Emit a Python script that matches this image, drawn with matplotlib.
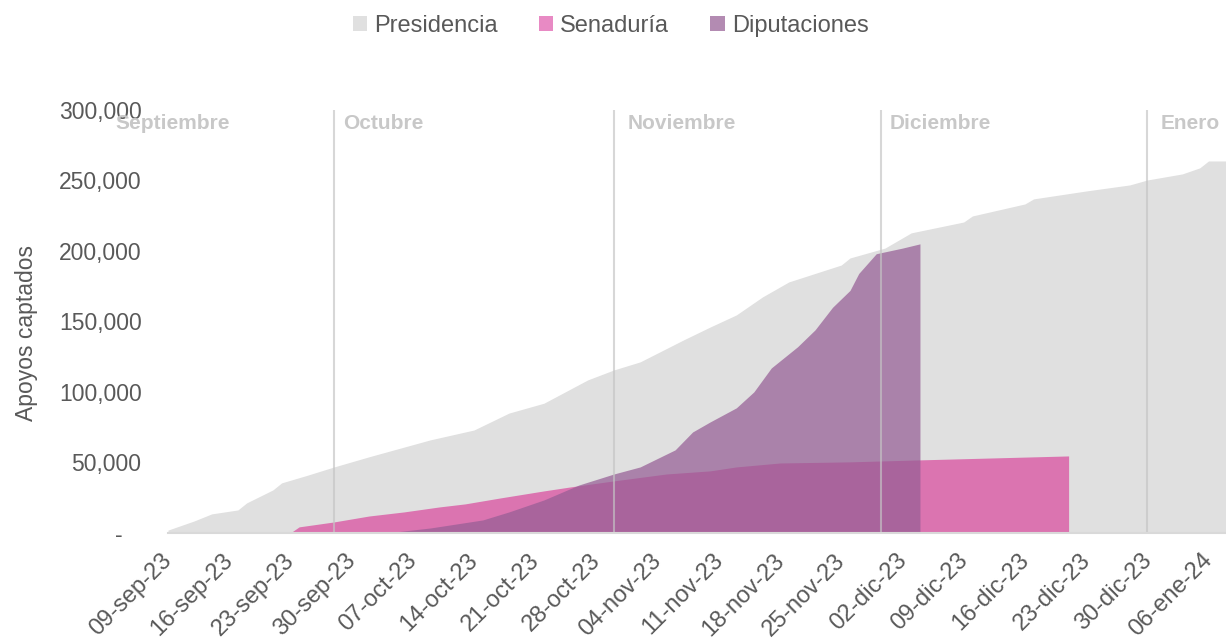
import pandas as pd
import matplotlib
matplotlib.use("Agg")
import matplotlib.pyplot as plt
from matplotlib.patches import Patch
from matplotlib.ticker import FuncFormatter

plt.rcParams["font.family"] = ["Liberation Sans", "DejaVu Sans"]

# Presidencia (apoyos acumulados)
pres_dates = [
    "2023-09-09", "2023-09-12", "2023-09-14", "2023-09-17", "2023-09-18",
    "2023-09-21", "2023-09-22", "2023-09-25", "2023-09-28", "2023-10-02",
    "2023-10-09", "2023-10-14", "2023-10-18", "2023-10-22", "2023-10-27",
    "2023-10-30", "2023-11-02", "2023-11-07", "2023-11-10", "2023-11-13",
    "2023-11-16", "2023-11-19", "2023-11-25", "2023-11-26", "2023-11-30",
    "2023-12-03", "2023-12-09", "2023-12-10", "2023-12-16", "2023-12-17",
    "2023-12-23", "2023-12-28", "2023-12-30", "2024-01-03", "2024-01-05",
    "2024-01-06", "2024-01-08",
]
pres_vals = [
    2000, 8500, 13500, 16300, 21300,
    30500, 35500, 41000, 46800, 54000,
    66000, 73000, 85000, 92000, 108500,
    115600, 121300, 137000, 146000, 154600,
    167400, 178000, 190000, 195000, 202000,
    212800, 220500, 224800, 233300, 236900,
    242500, 246800, 250300, 254600, 258900,
    263800, 263800,
]

# Senaduría
sen_dates = [
    "2023-09-23", "2023-09-24", "2023-09-28", "2023-10-02", "2023-10-06",
    "2023-10-10", "2023-10-13", "2023-10-17", "2023-10-22", "2023-10-25",
    "2023-10-30", "2023-11-05", "2023-11-10", "2023-11-13", "2023-11-18",
    "2023-11-26", "2023-12-04", "2023-12-21",
]
sen_vals = [
    0, 4300, 7800, 12000, 14900,
    18400, 20600, 24800, 29800, 32600,
    36900, 41800, 44000, 46800, 49600,
    50400, 51800, 54600,
]

# Diputaciones
dip_dates = [
    "2023-10-04", "2023-10-09", "2023-10-15", "2023-10-18", "2023-10-22",
    "2023-10-26", "2023-10-30", "2023-11-02", "2023-11-06", "2023-11-08",
    "2023-11-10", "2023-11-13", "2023-11-15", "2023-11-17", "2023-11-20",
    "2023-11-22", "2023-11-24", "2023-11-26", "2023-11-27", "2023-11-29",
    "2023-12-02", "2023-12-04",
]
dip_vals = [
    0, 3500, 9200, 14900, 23400,
    34000, 41800, 46800, 58900, 71600,
    78700, 88700, 100000, 117000, 132000,
    144000, 160000, 172000, 184000, 198000,
    202000, 205000,
]

# marcas de mes
month_names = ["Septiembre", "Octubre", "Noviembre", "Diciembre", "Enero"]
month_line_dates = ["2023-09-28", "2023-10-30", "2023-11-29 12:00", "2023-12-30"]
month_label_dates = ["2023-09-03", "2023-09-29", "2023-10-31 15:00",
                     "2023-11-30 14:00", "2023-12-31 12:00"]

tick_labels = [
    "09-sep-23", "16-sep-23", "23-sep-23", "30-sep-23", "07-oct-23", "14-oct-23",
    "21-oct-23", "28-oct-23", "04-nov-23", "11-nov-23", "18-nov-23", "25-nov-23",
    "02-dic-23", "09-dic-23", "16-dic-23", "23-dic-23", "30-dic-23", "06-ene-24",
]

c_pres = "#e0e0e0"
c_sen = "#db74b0"
c_dip = "#965e95"
text_c = "#595959"

fig = plt.figure(figsize=(12.26, 6.39), dpi=100)
ax = fig.add_axes([0.137, 0.166, 0.863, 0.662])

ax.fill_between(pd.to_datetime(pres_dates), pres_vals, color=c_pres, lw=0, zorder=1)
ax.fill_between(pd.to_datetime(sen_dates), sen_vals, color=c_sen, lw=0, zorder=2)
ax.fill_between(pd.to_datetime(dip_dates), dip_vals, color=c_dip, alpha=0.72, lw=0, zorder=3)

for d in month_line_dates:
    ax.axvline(pd.to_datetime(d), color="#c4c4c4", alpha=0.68, lw=1.5, zorder=4)

for name, d in zip(month_names, month_label_dates):
    ax.text(pd.to_datetime(d), 297000, name, color="#c8c8c8", fontsize=15,
            fontweight="bold", va="top", ha="left", zorder=5, clip_on=False)

ax.set_xlim(pd.to_datetime("2023-09-09"), pd.to_datetime("2024-01-08"))
ax.set_ylim(0, 300000)

# etiquetas de fecha giradas, colocadas a mano para ajustar el desfase
tick_dates = pd.date_range("2023-09-09", periods=len(tick_labels), freq="7D")
ax.set_xticks(tick_dates)
ax.set_xticklabels([])
for d, lab in zip(tick_dates, tick_labels):
    ax.annotate(lab, xy=(d, 0), xycoords=("data", "axes fraction"),
                xytext=(0.5, -17.5), textcoords="offset points",
                rotation=45, ha="right", va="center", rotation_mode="anchor",
                fontsize=17, color=text_c, annotation_clip=False)

ax.set_yticks(range(0, 300001, 50000))
ax.yaxis.set_major_formatter(FuncFormatter(lambda v, p: "-   " if v == 0 else f"{int(v):,}"))
ax.tick_params(axis="y", length=0, labelsize=16.5, labelcolor=text_c, pad=19)
ax.tick_params(axis="x", length=0)

for s in ["top", "right", "left"]:
    ax.spines[s].set_visible(False)
ax.spines["bottom"].set_color("#d9d9d9")
ax.spines["bottom"].set_linewidth(1.5)
ax.spines["bottom"].set_zorder(6)

ax.set_ylabel("Apoyos captados", fontsize=16.5, color=text_c)
ax.yaxis.set_label_coords(-0.123, 0.473)

handles = [
    Patch(facecolor=c_pres, edgecolor="none", label="Presidencia"),
    Patch(facecolor="#e88ac4", edgecolor="none", label="Senaduría"),
    Patch(facecolor="#b38bb2", edgecolor="none", label="Diputaciones"),
]
leg = fig.legend(handles=handles, loc="upper center", bbox_to_anchor=(0.498, 1.01),
                 ncol=3, frameon=False, fontsize=17, handlelength=0.6,
                 handleheight=0.6, handletextpad=0.3, columnspacing=1.75)
for t in leg.get_texts():
    t.set_color(text_c)

fig.savefig("out.png", dpi=100)
